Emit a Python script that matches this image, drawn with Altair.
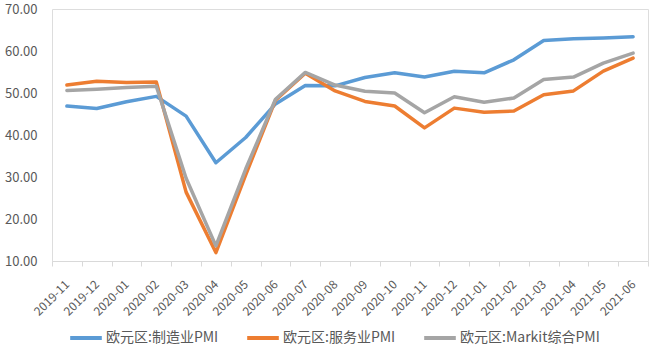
import altair as alt
import pandas as pd

months = ["2019-11", "2019-12", "2020-01", "2020-02", "2020-03", "2020-04", "2020-05",
          "2020-06", "2020-07", "2020-08", "2020-09", "2020-10", "2020-11", "2020-12",
          "2021-01", "2021-02", "2021-03", "2021-04", "2021-05", "2021-06"]
manufacturing = [46.9, 46.3, 47.9, 49.2, 44.5, 33.4, 39.4, 47.4, 51.8, 51.7,
                 53.7, 54.8, 53.8, 55.2, 54.8, 57.9, 62.5, 62.9, 63.1, 63.4]
services = [51.9, 52.8, 52.5, 52.6, 26.4, 12.0, 30.5, 48.3, 54.7, 50.5,
            48.0, 46.9, 41.7, 46.4, 45.4, 45.7, 49.6, 50.5, 55.2, 58.3]
composite = [50.6, 50.9, 51.3, 51.6, 29.7, 13.6, 31.9, 48.5, 54.9, 51.9,
             50.4, 50.0, 45.3, 49.1, 47.8, 48.8, 53.2, 53.8, 57.1, 59.5]

series_names = ["欧元区:制造业PMI", "欧元区:服务业PMI", "欧元区:Markit综合PMI"]
series_colors = ["#5B9BD5", "#ED7D31", "#A5A5A5"]

rows = []
for name, vals in zip(series_names, [manufacturing, services, composite]):
    for i, (m, v) in enumerate(zip(months, vals)):
        rows.append({"month": m, "value": v, "series": name})
df = pd.DataFrame(rows)

FONT = "Noto Sans CJK SC"
TXT = "#595959"

chart = alt.Chart(df).mark_line(strokeWidth=3.5, strokeJoin="round", strokeCap="round").encode(
    x=alt.X("month:O", sort=months, title=None,
            scale=alt.Scale(paddingInner=0, paddingOuter=0),
            axis=alt.Axis(labelAngle=-45, labelAlign="right", labelBaseline="middle",
                          labelFontSize=12, labelColor=TXT, labelFont=FONT,
                          labelPadding=16, tickBand="extent", tickSize=5,
                          tickColor="#D9D9D9", domainColor="#D9D9D9", domainWidth=1)),
    y=alt.Y("value:Q", title=None,
            scale=alt.Scale(domain=[10, 70], nice=False, zero=False),
            axis=alt.Axis(values=[10, 20, 30, 40, 50, 60, 70], format=".2f",
                          labelFontSize=13, labelColor=TXT, labelFont=FONT,
                          labelPadding=15, ticks=False, domain=False, grid=False)),
    color=alt.Color("series:N", sort=series_names,
                    scale=alt.Scale(domain=series_names, range=series_colors),
                    legend=alt.Legend(title=None, orient="none", direction="horizontal",
                                      legendX=16, legendY=311, padding=0,
                                      symbolType="stroke", symbolSize=1000,
                                      symbolStrokeWidth=4, labelFontSize=14,
                                      labelFont=FONT, labelColor=TXT, labelOffset=2,
                                      columnPadding=20)),
    order=alt.Order("series_order:Q")
).transform_calculate(
    series_order="indexof(['欧元区:制造业PMI','欧元区:服务业PMI','欧元区:Markit综合PMI'], datum.series)"
).properties(
    width=596, height=252,
    autosize=alt.AutoSizeParams(type="none"),
    padding={"left": 52, "top": 9, "right": 14, "bottom": 95}
).configure_view(stroke=None).configure(background="white")

chart.save("out.html", embed_options={"renderer": "svg", "actions": False})
